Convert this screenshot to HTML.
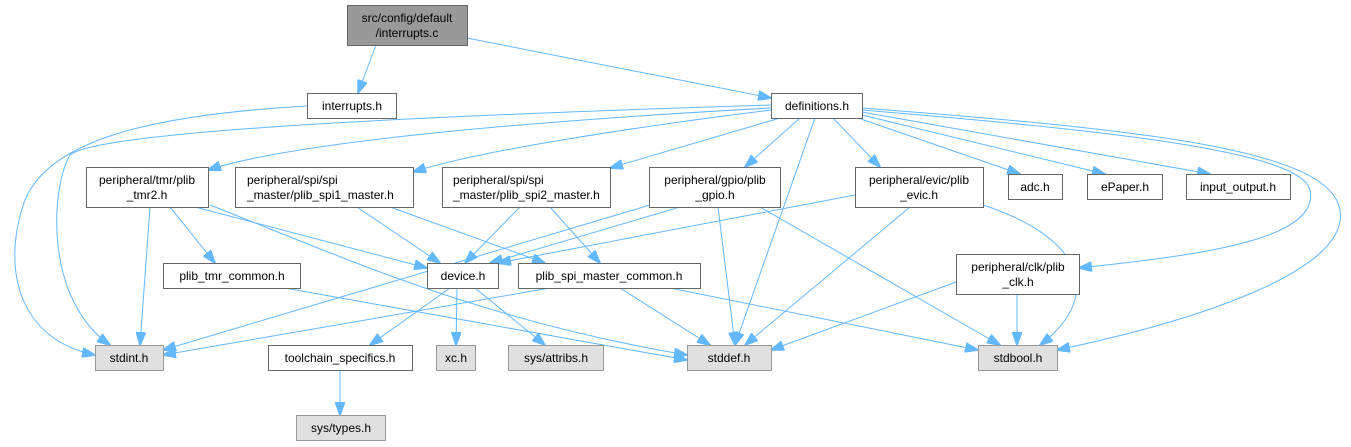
<!DOCTYPE html>
<html><head><meta charset="utf-8"><style>
body{margin:0;background:#fff;}
svg{display:block}
text{font-family:"Liberation Sans",Arial,sans-serif;font-size:12px;fill:#000;text-anchor:middle}
.n{fill:#fff;stroke:#666;stroke-width:1}
.g{fill:#e0e0e0;stroke:#999;stroke-width:1}
.e{fill:none;stroke:#63b8ff;stroke-width:1;marker-end:url(#a)}
</style></head><body>
<svg width="1351" height="447" viewBox="0 0 1351 447">
<defs><marker id="a" markerWidth="14" markerHeight="10" refX="13" refY="5" orient="auto" markerUnits="userSpaceOnUse"><path d="M0,0 L14,5 L0,10 z" fill="#63b8ff" stroke="#63b8ff"/></marker></defs>
<g>
<path class="e" d="M376,45 L358,93"/>
<path class="e" d="M467,38 L771,98"/>
<path class="e" d="M307,106 C150,115 50,140 25,200 C0,270 20,340 95,355"/>
<path class="e" d="M771,105 C450,115 100,130 70,155 C50,190 45,300 110,345"/>
<path class="e" d="M771,108 C550,120 300,140 208,170"/>
<path class="e" d="M771,110 C650,125 480,150 413,172"/>
<path class="e" d="M780,118 L610,168"/>
<path class="e" d="M800,118 L745,167"/>
<path class="e" d="M815,118 L735,345"/>
<path class="e" d="M833,118 L880,167"/>
<path class="e" d="M858,118 L1020,174"/>
<path class="e" d="M862,115 L1105,174"/>
<path class="e" d="M862,112 L1210,174"/>
<path class="e" d="M862,110 C1100,130 1300,150 1310,190 C1320,240 1200,255 1079,268"/>
<path class="e" d="M862,108 C1150,130 1330,150 1340,210 C1350,270 1200,320 1057,350"/>
<path class="e" d="M150,207 L140,345"/>
<path class="e" d="M170,207 L215,263"/>
<path class="e" d="M195,207 L427,268"/>
<path class="e" d="M210,205 C350,260 480,320 687,355"/>
<path class="e" d="M285,288 L687,360"/>
<path class="e" d="M357,207 L440,263"/>
<path class="e" d="M390,207 L545,263"/>
<path class="e" d="M520,207 L465,263"/>
<path class="e" d="M550,207 L600,263"/>
<path class="e" d="M680,207 L490,263"/>
<path class="e" d="M650,205 L163,350"/>
<path class="e" d="M718,207 L735,345"/>
<path class="e" d="M760,207 L1000,345"/>
<path class="e" d="M855,195 L498,263"/>
<path class="e" d="M910,207 L745,345"/>
<path class="e" d="M983,205 C1090,240 1100,300 1040,345"/>
<path class="e" d="M450,288 L370,345"/>
<path class="e" d="M457,288 L456,345"/>
<path class="e" d="M475,288 L545,345"/>
<path class="e" d="M550,288 L163,355"/>
<path class="e" d="M620,288 L710,345"/>
<path class="e" d="M670,288 L978,350"/>
<path class="e" d="M956,282 L771,350"/>
<path class="e" d="M1017,294 L1017,345"/>
<path class="e" d="M340,370 L340,415"/>
</g>
<rect x="347.5" y="5.5" width="120" height="40" fill="#999" stroke="#666"/>
<text x="407" y="22">src/config/default</text><text x="407" y="37">/interrupts.c</text>
<rect class="n" x="307.5" y="93.5" width="89" height="25"/><text x="352" y="110">interrupts.h</text>
<rect class="n" x="771.5" y="93.5" width="91" height="25"/><text x="817" y="110">definitions.h</text>
<rect class="n" x="86.5" y="167.5" width="122" height="40"/><text x="147" y="184">peripheral/tmr/plib</text><text x="147" y="199">_tmr2.h</text>
<rect class="n" x="235.5" y="167.5" width="178" height="40"/><text x="247" y="184" style="text-anchor:start">peripheral/spi/spi</text><text x="247" y="199" style="text-anchor:start">_master/plib_spi1_master.h</text>
<rect class="n" x="442.5" y="167.5" width="168" height="40"/><text x="453" y="184" style="text-anchor:start">peripheral/spi/spi</text><text x="453" y="199" style="text-anchor:start">_master/plib_spi2_master.h</text>
<rect class="n" x="649.5" y="167.5" width="131" height="40"/><text x="715" y="184">peripheral/gpio/plib</text><text x="715" y="199">_gpio.h</text>
<rect class="n" x="855.5" y="167.5" width="128" height="40"/><text x="919" y="184">peripheral/evic/plib</text><text x="919" y="199">_evic.h</text>
<rect class="n" x="1008.5" y="174.5" width="54" height="25"/><text x="1035" y="191">adc.h</text>
<rect class="n" x="1087.5" y="174.5" width="75" height="25"/><text x="1125" y="191">ePaper.h</text>
<rect class="n" x="1186.5" y="174.5" width="104" height="25"/><text x="1238" y="191">input_output.h</text>
<rect class="n" x="956.5" y="254.5" width="123" height="40"/><text x="1018" y="271">peripheral/clk/plib</text><text x="1018" y="286">_clk.h</text>
<rect class="n" x="163.5" y="263.5" width="137" height="25"/><text x="232" y="280">plib_tmr_common.h</text>
<rect class="n" x="427.5" y="263.5" width="71" height="25"/><text x="463" y="280">device.h</text>
<rect class="n" x="518.5" y="263.5" width="182" height="25"/><text x="609" y="280">plib_spi_master_common.h</text>
<rect class="g" x="95.5" y="345.5" width="68" height="25"/><text x="129" y="362">stdint.h</text>
<rect class="n" x="268.5" y="345.5" width="144" height="25"/><text x="340" y="362">toolchain_specifics.h</text>
<rect class="g" x="436.5" y="345.5" width="39" height="25"/><text x="456" y="362">xc.h</text>
<rect class="g" x="508.5" y="345.5" width="95" height="25"/><text x="556" y="362">sys/attribs.h</text>
<rect class="g" x="687.5" y="345.5" width="84" height="25"/><text x="729" y="362">stddef.h</text>
<rect class="g" x="978.5" y="345.5" width="79" height="25"/><text x="1018" y="362">stdbool.h</text>
<rect class="g" x="296.5" y="415.5" width="89" height="25"/><text x="341" y="432">sys/types.h</text>
</svg>
</body></html>
